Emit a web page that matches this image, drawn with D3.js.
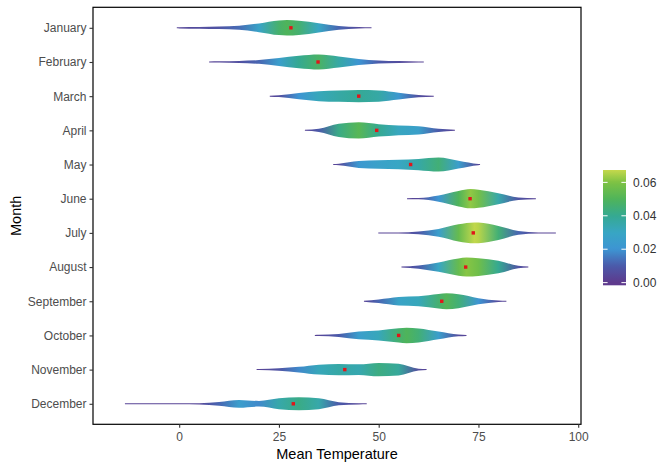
<!DOCTYPE html>
<html><head><meta charset="utf-8">
<script src="https://cdn.jsdelivr.net/npm/d3@7"></script>
<style>body{margin:0;background:#fff}svg{display:block;font-family:"Liberation Sans",Arial,sans-serif}</style>
</head><body><svg id="c" width="672" height="469"></svg>
<script>
const months = ["January","February","March","April","May","June","July","August","September","October","November","December"];
const meanTemp = [28, 34.8, 45, 49.5, 58, 72.9, 73.7, 71.8, 65.8, 55, 41.5, 28.6];
const ridgeTemps = [
  [-0.6, 0, 5, 10, 15, 20, 25, 27, 30, 35, 40, 45, 48.2],
  [7.5, 10, 15, 20, 25, 30, 35, 40, 45, 50, 55, 60, 61.3],
  [22.7, 25, 30, 35, 40, 45, 50, 55, 60, 63.8],
  [31.5, 35, 40, 45, 50, 55, 60, 65, 69.1],
  [38.6, 40, 45, 50, 55, 60, 65, 70, 75, 75.4],
  [57.1, 60, 65, 70, 73, 75, 80, 85, 89.4],
  [49.9, 55, 60, 65, 70, 74, 75, 80, 85, 90, 94.4],
  [55.7, 60, 65, 70, 72, 75, 80, 85, 87.5],
  [46.3, 50, 55, 60, 65, 67, 70, 75, 80, 82],
  [34, 35, 40, 45, 50, 55, 57, 60, 65, 70, 72],
  [19.4, 20, 25, 30, 35, 40, 45, 50, 55, 60, 62],
  [-13.6, -10, -5, 0, 5, 10, 15, 20, 25, 30, 35, 40, 45, 47]
];
const ridgeDensity = [
  [0.003, 0.004, 0.006, 0.008, 0.013, 0.028, 0.047, 0.050, 0.046, 0.030, 0.012, 0.005, 0.003],
  [0.003, 0.004, 0.007, 0.012, 0.025, 0.040, 0.048, 0.036, 0.020, 0.010, 0.006, 0.003, 0.003],
  [0.003, 0.006, 0.020, 0.032, 0.036, 0.039, 0.036, 0.022, 0.007, 0.003],
  [0.003, 0.010, 0.042, 0.052, 0.040, 0.031, 0.026, 0.010, 0.003],
  [0.003, 0.005, 0.022, 0.027, 0.030, 0.036, 0.045, 0.025, 0.004, 0.003],
  [0.003, 0.004, 0.020, 0.050, 0.062, 0.058, 0.035, 0.008, 0.003],
  [0.003, 0.003, 0.009, 0.025, 0.055, 0.067, 0.066, 0.045, 0.012, 0.003, 0.003],
  [0.003, 0.010, 0.030, 0.055, 0.061, 0.057, 0.040, 0.008, 0.003],
  [0.003, 0.012, 0.028, 0.032, 0.046, 0.051, 0.045, 0.020, 0.005, 0.003],
  [0.003, 0.004, 0.010, 0.025, 0.032, 0.046, 0.050, 0.045, 0.025, 0.006, 0.003],
  [0.003, 0.003, 0.008, 0.018, 0.032, 0.036, 0.034, 0.043, 0.038, 0.006, 0.003],
  [0.003, 0.003, 0.003, 0.003, 0.004, 0.012, 0.025, 0.018, 0.035, 0.042, 0.035, 0.010, 0.004, 0.003]
];
const xTicks = [0, 25, 50, 75, 100];
const legendTicks = [0, 0.02, 0.04, 0.06];
const paletteStops = [0, 0.01, 0.02, 0.03, 0.04, 0.05, 0.06, 0.0674];
const paletteColors = ["#5e3a8d", "#4b5aaa", "#3d95d3", "#38a6c4", "#35a991", "#4fb45a", "#7dc243", "#c5d84c"];

const svg = d3.select("#c");
const P = {l: 93, r: 581, t: 7.3, b: 424.3};
const x = d3.scaleLinear().domain([-21.6, 100.7]).range([P.l, P.r]);
const y = d3.scalePoint().domain(months).range([P.t, P.b]).padding(0.6);
const h = d3.scaleLinear().domain([0, 0.0675]).range([0, 10.5]);
const color = d3.scaleLinear().domain(paletteStops).range(paletteColors).clamp(true);

const defs = svg.append("defs");
const tickCol = "#333";

months.forEach((m, i) => {
  const pts = ridgeTemps[i].map((t, j) => ({t, d: ridgeDensity[i][j]}));
  const lo = pts[0].t, hi = pts[pts.length - 1].t;
  const gid = "g" + i;
  const g = defs.append("linearGradient").attr("id", gid)
    .attr("gradientUnits", "userSpaceOnUse")
    .attr("x1", x(lo)).attr("x2", x(hi)).attr("y1", 0).attr("y2", 0);
  pts.forEach(p => g.append("stop")
    .attr("offset", (x(p.t) - x(lo)) / (x(hi) - x(lo)))
    .attr("stop-color", color(p.d)));
  const cy = y(m);
  const area = d3.area().x(p => x(p.t)).y0(p => cy - Math.max(h(p.d), 0.5)).y1(p => cy + Math.max(h(p.d), 0.5)).curve(d3.curveMonotoneX);
  svg.append("path").datum(pts).attr("d", area).attr("fill", `url(#${gid})`);
  svg.append("rect").attr("x", x(meanTemp[i]) - 1.7).attr("y", cy - 1.7).attr("width", 3.4).attr("height", 3.4).attr("fill", "#e0161a");
});

// panel border
svg.append("rect").attr("x", P.l).attr("y", P.t).attr("width", P.r - P.l).attr("height", P.b - P.t)
  .attr("fill", "none").attr("stroke", "#000").attr("stroke-width", 1.2);

// x axis
const xa = svg.append("g").attr("transform", `translate(0,${P.b})`)
  .call(d3.axisBottom(x).tickValues(xTicks).tickSize(3.5).tickSizeOuter(0).tickPadding(4.5));
xa.select(".domain").remove();
xa.selectAll("line").attr("stroke", tickCol).attr("stroke-width", 1.1);
xa.selectAll("text").attr("fill", "#4d4d4d").attr("font-size", 12).attr("font-family", "Liberation Sans, Arial, sans-serif");

// y axis
const ya = svg.append("g").attr("transform", `translate(${P.l},0)`)
  .call(d3.axisLeft(y).tickSize(3.5).tickSizeOuter(0).tickPadding(3));
ya.select(".domain").remove();
ya.selectAll("line").attr("stroke", tickCol).attr("stroke-width", 1.1);
ya.selectAll("text").attr("fill", "#4d4d4d").attr("font-size", 12).attr("font-family", "Liberation Sans, Arial, sans-serif");

// titles
svg.append("text").attr("x", (P.l + P.r) / 2).attr("y", 459).attr("text-anchor", "middle")
  .attr("font-size", 14.5).attr("fill", "#000").text("Mean Temperature");
svg.append("text").attr("transform", `translate(21,${(P.t + P.b) / 2}) rotate(-90)`).attr("text-anchor", "middle")
  .attr("font-size", 14.5).attr("fill", "#000").text("Month");

// legend
const ly = d3.scaleLinear().domain([-0.0016, 0.0674]).range([285.3, 170]);
const lg = defs.append("linearGradient").attr("id", "lg").attr("x1", 0).attr("x2", 0).attr("y1", 1).attr("y2", 0);
d3.range(0, 41).forEach(k => {
  const v = -0.0016 + k / 40 * (0.0674 + 0.0016);
  lg.append("stop").attr("offset", k / 40).attr("stop-color", color(v));
});
const lx0 = 603, lw = 23;
svg.append("rect").attr("x", lx0).attr("y", ly(0.0674)).attr("width", lw).attr("height", ly(-0.0016) - ly(0.0674)).attr("fill", "url(#lg)");
legendTicks.forEach(v => {
  svg.append("line").attr("x1", lx0).attr("x2", lx0 + 4.6).attr("y1", ly(v)).attr("y2", ly(v)).attr("stroke", "#fff").attr("stroke-width", 1);
  svg.append("line").attr("x1", lx0 + lw - 4.6).attr("x2", lx0 + lw).attr("y1", ly(v)).attr("y2", ly(v)).attr("stroke", "#fff").attr("stroke-width", 1);
  svg.append("text").attr("x", 633).attr("y", ly(v)).attr("dy", "0.35em").attr("font-size", 12).attr("fill", "#333").text(d3.format(".2f")(v));
});
</script></body></html>
